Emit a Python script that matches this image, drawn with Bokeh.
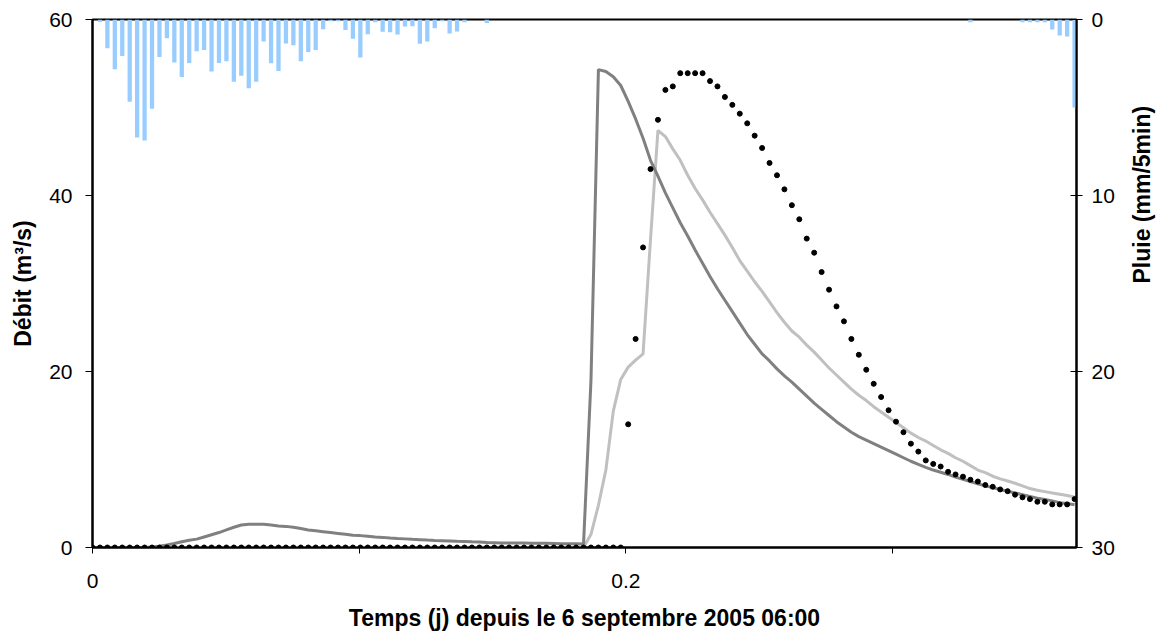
import math
from bokeh.plotting import figure
from bokeh.models import Range1d, LinearAxis, FixedTicker, ColumnDataSource
from bokeh.embed import file_html
from bokeh.resources import INLINE

# ---------------- data ----------------
DT = 0.00279          # pas de temps (j)
N = 133

# pluie (mm/5min), one value per time step
rain = ([0.0, 0.14, 1.63, 2.83, 2.07, 4.67, 6.7, 6.87, 5.07, 2.13, 1.06, 2.45, 3.26,
         2.47, 1.8, 1.73, 2.96, 2.47, 2.37, 3.53, 3.2, 3.91, 3.53, 1.25, 2.48, 2.92,
         1.37, 1.46, 2.37, 1.84, 1.73, 0.55, 0.1, 0.1, 0.59, 1.1, 2.16, 0.84, 0.15,
         0.7, 0.72, 0.85, 0.4, 0.38, 1.38, 1.25, 0.5, 0.1, 0.8, 0.68, 0.15]
        + [0.0] * 2 + [0.2] + [0.0] * 64 + [0.15] + [0.0] * 6
        + [0.15, 0.15, 0.15, 0.15, 0.57, 0.91, 0.97, 5.0])

# débit simulé 1 (gris foncé)
sim1 = ([0.0] * 8
        + [0.05, 0.15, 0.28, 0.45, 0.65, 0.82, 0.95, 1.2, 1.45, 1.7, 2.0, 2.3, 2.55,
           2.65, 2.65, 2.65, 2.55, 2.45, 2.4, 2.3, 2.15, 2.0, 1.9, 1.8, 1.7, 1.6, 1.5,
           1.4, 1.35, 1.28, 1.2, 1.15, 1.08, 1.02, 0.98, 0.93, 0.89, 0.84, 0.8, 0.77,
           0.74, 0.71, 0.69, 0.65, 0.62, 0.58, 0.55, 0.52, 0.51, 0.5, 0.5, 0.49, 0.49,
           0.48, 0.46, 0.44, 0.43, 0.42, 0.41]
        + [19.0, 54.3, 54.1, 53.5, 52.5, 50.7, 48.7, 46.5, 44.0, 42.2, 40.3, 38.6,
           36.9, 35.4, 33.8, 32.3, 30.8, 29.4, 28.1, 26.8, 25.5, 24.2, 23.1, 22.0,
           21.2, 20.3, 19.5, 18.8, 18.0, 17.2, 16.4, 15.7, 15.0, 14.3, 13.7, 13.1,
           12.6, 12.2, 11.8, 11.4, 11.0, 10.6, 10.2, 9.8, 9.45, 9.1, 8.8, 8.55, 8.3,
           8.0, 7.75, 7.5, 7.25, 7.0, 6.8, 6.6, 6.4, 6.2, 6.0, 5.8, 5.6, 5.45, 5.3,
           5.1, 5.0, 4.85])

# débit simulé 2 (gris clair)
sim2 = ([0.0] * 67
        + [1.5, 4.8, 8.8, 15.5, 19.1, 20.5, 21.3, 22.0, 35.0, 47.4, 46.7, 45.3, 44.0,
           42.3, 40.8, 39.5, 38.1, 36.8, 35.5, 34.1, 32.6, 31.4, 30.2, 29.1, 27.9,
           26.7, 25.6, 24.6, 23.9, 23.0, 22.2, 21.3, 20.4, 19.6, 18.8, 18.0, 17.3,
           16.7, 16.0, 15.4, 14.8, 14.2, 13.6, 13.0, 12.5, 12.1, 11.6, 11.1, 10.7,
           10.2, 9.8, 9.3, 8.8, 8.5, 8.1, 7.8, 7.55, 7.3, 7.0, 6.7, 6.5, 6.35, 6.2,
           6.05, 5.9, 5.75])

# débit observé (points)
obs = ([0.0] * 72
       + [14.0, 23.7, 34.1, 43.0, 48.6, 52.0, 52.4, 53.9, 53.9, 53.9, 53.9, 53.0,
          52.4, 51.2, 50.3, 49.3, 48.2, 46.8, 45.4, 43.7, 42.3, 40.7, 38.9, 37.3,
          35.1, 33.5, 31.3, 29.3, 27.4, 25.7, 23.7, 21.9, 20.2, 18.6, 17.1, 15.6,
          14.3, 13.1, 11.8, 10.9, 9.9, 9.5, 9.2, 8.6, 8.3, 8.05, 7.7, 7.5, 7.1, 6.9,
          6.6, 6.4, 6.0, 5.7, 5.5, 5.2, 5.2, 4.9, 4.9, 4.9, 5.5])

t = [round(i * DT, 6) for i in range(N)]

x_ticks = [0, 0.2]
x_minor = [0.1, 0.3]
y_ticks = [0, 20, 40, 60]
rain_ticks = [0, 10, 20, 30]

x_title = "Temps (j) depuis le 6 septembre 2005 06:00"
y_title = "Débit (m³/s)"
rain_title = "Pluie (mm/5min)"

# ---------------- figure ----------------
FONT = "Liberation Sans"
src = ColumnDataSource(dict(t=t, rain=rain, sim1=sim1, sim2=sim2, obs=obs))

p = figure(frame_width=984, frame_height=528,
           x_range=Range1d(0, 0.369), y_range=Range1d(0, 60),
           output_backend="svg", toolbar_location=None,
           min_border_left=92, min_border_right=60,
           min_border_top=19, min_border_bottom=60)
p.extra_y_ranges = {"rain": Range1d(30, 0)}
p.background_fill_color = "white"
p.border_fill_color = "white"
p.outline_line_color = "black"
p.outline_line_width = 2
p.xgrid.visible = False
p.ygrid.visible = False

p.vbar(x="t", width=0.0016, top=0, bottom="rain", y_range_name="rain",
       fill_color="#99CCFF", line_color=None, source=src)
p.line("t", "sim2", color="#C0C0C0", line_width=3, source=src)
p.line("t", "sim1", color="#808080", line_width=3, source=src)
p.scatter("t", "obs", size=5, color="black", source=src)

def style(ax, label):
    ax.axis_label = label
    ax.axis_line_color = "black"
    ax.axis_line_width = 2
    ax.major_tick_line_color = "black"
    ax.minor_tick_line_color = "black"
    ax.major_label_text_font = FONT
    ax.major_label_text_font_size = "21px"
    ax.major_label_text_color = "black"
    ax.axis_label_text_font = FONT
    ax.axis_label_text_font_size = "23px"
    ax.axis_label_text_font_style = "bold"
    ax.axis_label_text_color = "black"

xa = p.xaxis[0]
style(xa, x_title)
xa.ticker = FixedTicker(ticks=x_ticks, minor_ticks=x_minor)
xa.major_label_overrides = {0: "0", 0.2: "0.2"}
xa.major_tick_in = 0
xa.major_tick_out = 6
xa.minor_tick_in = 0
xa.minor_tick_out = 6
xa.major_label_standoff = 20
xa.axis_label_standoff = 14

ya = p.yaxis[0]
style(ya, y_title)
ya.ticker = FixedTicker(ticks=y_ticks)
ya.minor_tick_line_color = None
ya.major_tick_in = 0
ya.major_tick_out = 7
ya.major_label_standoff = 13
ya.axis_label_standoff = 10

ra = LinearAxis(y_range_name="rain", ticker=FixedTicker(ticks=rain_ticks))
style(ra, rain_title)
ra.minor_tick_line_color = None
ra.major_tick_in = 6
ra.major_tick_out = 6
ra.major_label_standoff = 9
ra.axis_label_standoff = 24
try:
    ra.axis_label_orientation = math.pi / 2
except Exception:
    pass
p.add_layout(ra, "right")

open("out.html", "w").write(file_html(p, INLINE))
